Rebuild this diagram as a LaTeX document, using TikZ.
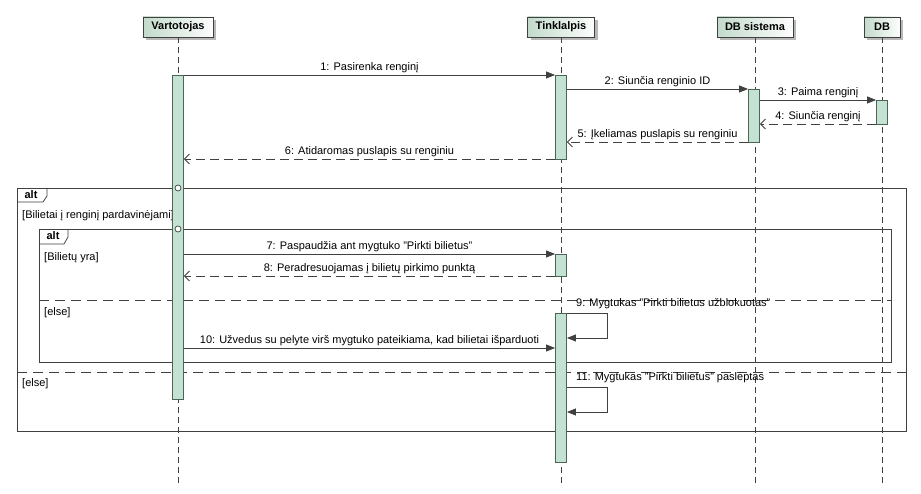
\documentclass[tikz,border=0pt]{standalone}
\usepackage{fontspec}
\setmainfont{Liberation Sans}
\usetikzlibrary{arrows.meta,shadows}
\definecolor{actfill}{HTML}{C4E2D2}
\definecolor{actdraw}{HTML}{4A6558}
\definecolor{ln}{HTML}{404040}
\definecolor{headl}{HTML}{C3DACB}
\begin{document}
\begin{tikzpicture}[x=1pt,y=-1pt,
  font=\fontsize{11}{13}\selectfont,
  head/.style={draw=ln, line width=0.8pt, left color=headl, right color=white!96!headl,
    minimum height=20, inner sep=0, font=\fontsize{11}{13}\selectfont\bfseries,
    drop shadow={shadow xshift=3pt, shadow yshift=-3pt, fill=black!28, opacity=1}},
  act/.style={draw=actdraw, line width=0.8pt, fill=actfill, minimum width=11, inner sep=0},
  life/.style={draw=ln, line width=0.6pt, dash pattern=on 6pt off 4pt},
  msg/.style={draw=ln, line width=0.8pt, -{Triangle[length=9pt,width=7pt]}},
  ret/.style={draw=ln, line width=0.8pt, dash pattern=on 9pt off 5pt, -{Straight Barb[length=5pt,width=10pt]}},
  lbl/.style={above, inner sep=2pt, text height=8, text depth=2.5},
  frm/.style={draw=ln, line width=0.8pt},
  sep/.style={draw=ln, line width=0.8pt, dash pattern=on 10pt off 6pt},
  guard/.style={anchor=west, inner sep=0},
  gate/.style={circle, draw=ln, line width=0.7pt, fill=white, minimum size=6, inner sep=0}
]
\fill[white] (0,0) rectangle (921,494);
\useasboundingbox (0,0) rectangle (921,494);

% level coordinates
\coordinate (yend) at (0,484);
\coordinate (y1) at (0,75);
\coordinate (y2) at (0,89);
\coordinate (y3) at (0,100);
\coordinate (y4) at (0,124);
\coordinate (y5) at (0,142);
\coordinate (y6) at (0,159);
\coordinate (y7) at (0,254);
\coordinate (y8) at (0,276);
\coordinate (y9) at (0,313);
\coordinate (y9b) at (0,338);
\coordinate (y10) at (0,348);
\coordinate (y11) at (0,387);
\coordinate (y11b) at (0,412);

% heads
\node[head, minimum width=70] (hV) at (178,27) {Vartotojas};
\node[head, minimum width=67] (hT) at (561,27) {Tinklalpis};
\node[head, minimum width=76] (hS) at (755,27) {DB sistema};
\node[head, minimum width=36] (hD) at (882,27) {DB};

% lifelines
\draw[life] (hV) -- (hV |- yend);
\draw[life] (hT) -- (hT |- yend);
\draw[life] (hS) -- (hS |- yend);
\draw[life] (hD) -- (hD |- yend);

% frames
\draw[frm] (17,188) rectangle (906,431);
\draw[frm] (17,202) -- (43,202) -- (47,196) -- (47,188);
\node[font=\fontsize{11}{13}\selectfont\bfseries, inner sep=0] (alt1) at (31,195) {alt};
\draw[frm] (39,229) rectangle (891,362);
\draw[frm] (39,244) -- (64,244) -- (68,237) -- (68,229);
\node[font=\fontsize{11}{13}\selectfont\bfseries, inner sep=0] (alt2) at (53,236) {alt};
\draw[sep] (39,300) -- (891,300);
\draw[sep] (17,372) -- (906,372);
\node[guard] (g1) at (22,216) {[Bilietai į renginį pardavinėjami]};
\node[guard] (g2) at (44,258) {[Bilietų yra]};
\node[guard] (g3) at (44,313) {[else]};
\node[guard] (g4) at (22,384) {[else]};

% activations
\node[act, minimum height=324] (aV) at (178,237) {};
\node[act, minimum height=84] (aT1) at (561,117) {};
\node[act, minimum height=53] (aS) at (754,115.5) {};
\node[act, minimum height=24] (aD) at (882,112) {};
\node[act, minimum height=22] (aT2) at (561,265) {};
\node[act, minimum height=149] (aT3) at (561,387.5) {};

\node[gate] (c1) at (178,188) {};
\node[gate] (c2) at (178,229) {};

% messages
\draw[msg] (aV.east |- y1) -- node[lbl] {1: Pasirenka renginį} (aT1.west |- y1);
\draw[msg] (aT1.east |- y2) -- node[lbl] {2: Siunčia renginio ID} (aS.west |- y2);
\draw[msg] (aS.east |- y3) -- node[lbl] {3: Paima renginį} (aD.west |- y3);
\draw[ret] (aD.west |- y4) -- node[lbl] {4: Siunčia renginį} (aS.east |- y4);
\draw[ret] (aS.west |- y5) -- node[lbl] {5: Įkeliamas puslapis su renginiu} (aT1.east |- y5);
\draw[ret] (aT1.west |- y6) -- node[lbl] {6: Atidaromas puslapis su renginiu} (aV.east |- y6);
\draw[msg] (aV.east |- y7) -- node[lbl] {7: Paspaudžia ant mygtuko "Pirkti bilietus"} (aT2.west |- y7);
\draw[ret] (aT2.west |- y8) -- node[lbl] {8: Peradresuojamas į bilietų pirkimo punktą} (aV.east |- y8);
\draw[msg] (aT3.east |- y9) -- ++(40,0) |- (aT3.east |- y9b);
\node[anchor=west, inner sep=0] (l9) at (576,304) {9: Mygtukas "Pirkti bilietus užblokuotas"};
\draw[msg] (aV.east |- y10) -- node[lbl] {10: Užvedus su pelyte virš mygtuko pateikiama, kad bilietai išparduoti} (aT3.west |- y10);
\draw[msg] (aT3.east |- y11) -- ++(40,0) |- (aT3.east |- y11b);
\node[anchor=west, inner sep=0] (l11) at (576,378) {11: Mygtukas "Pirkti bilietus" paslėptas};
\end{tikzpicture}
\end{document}
